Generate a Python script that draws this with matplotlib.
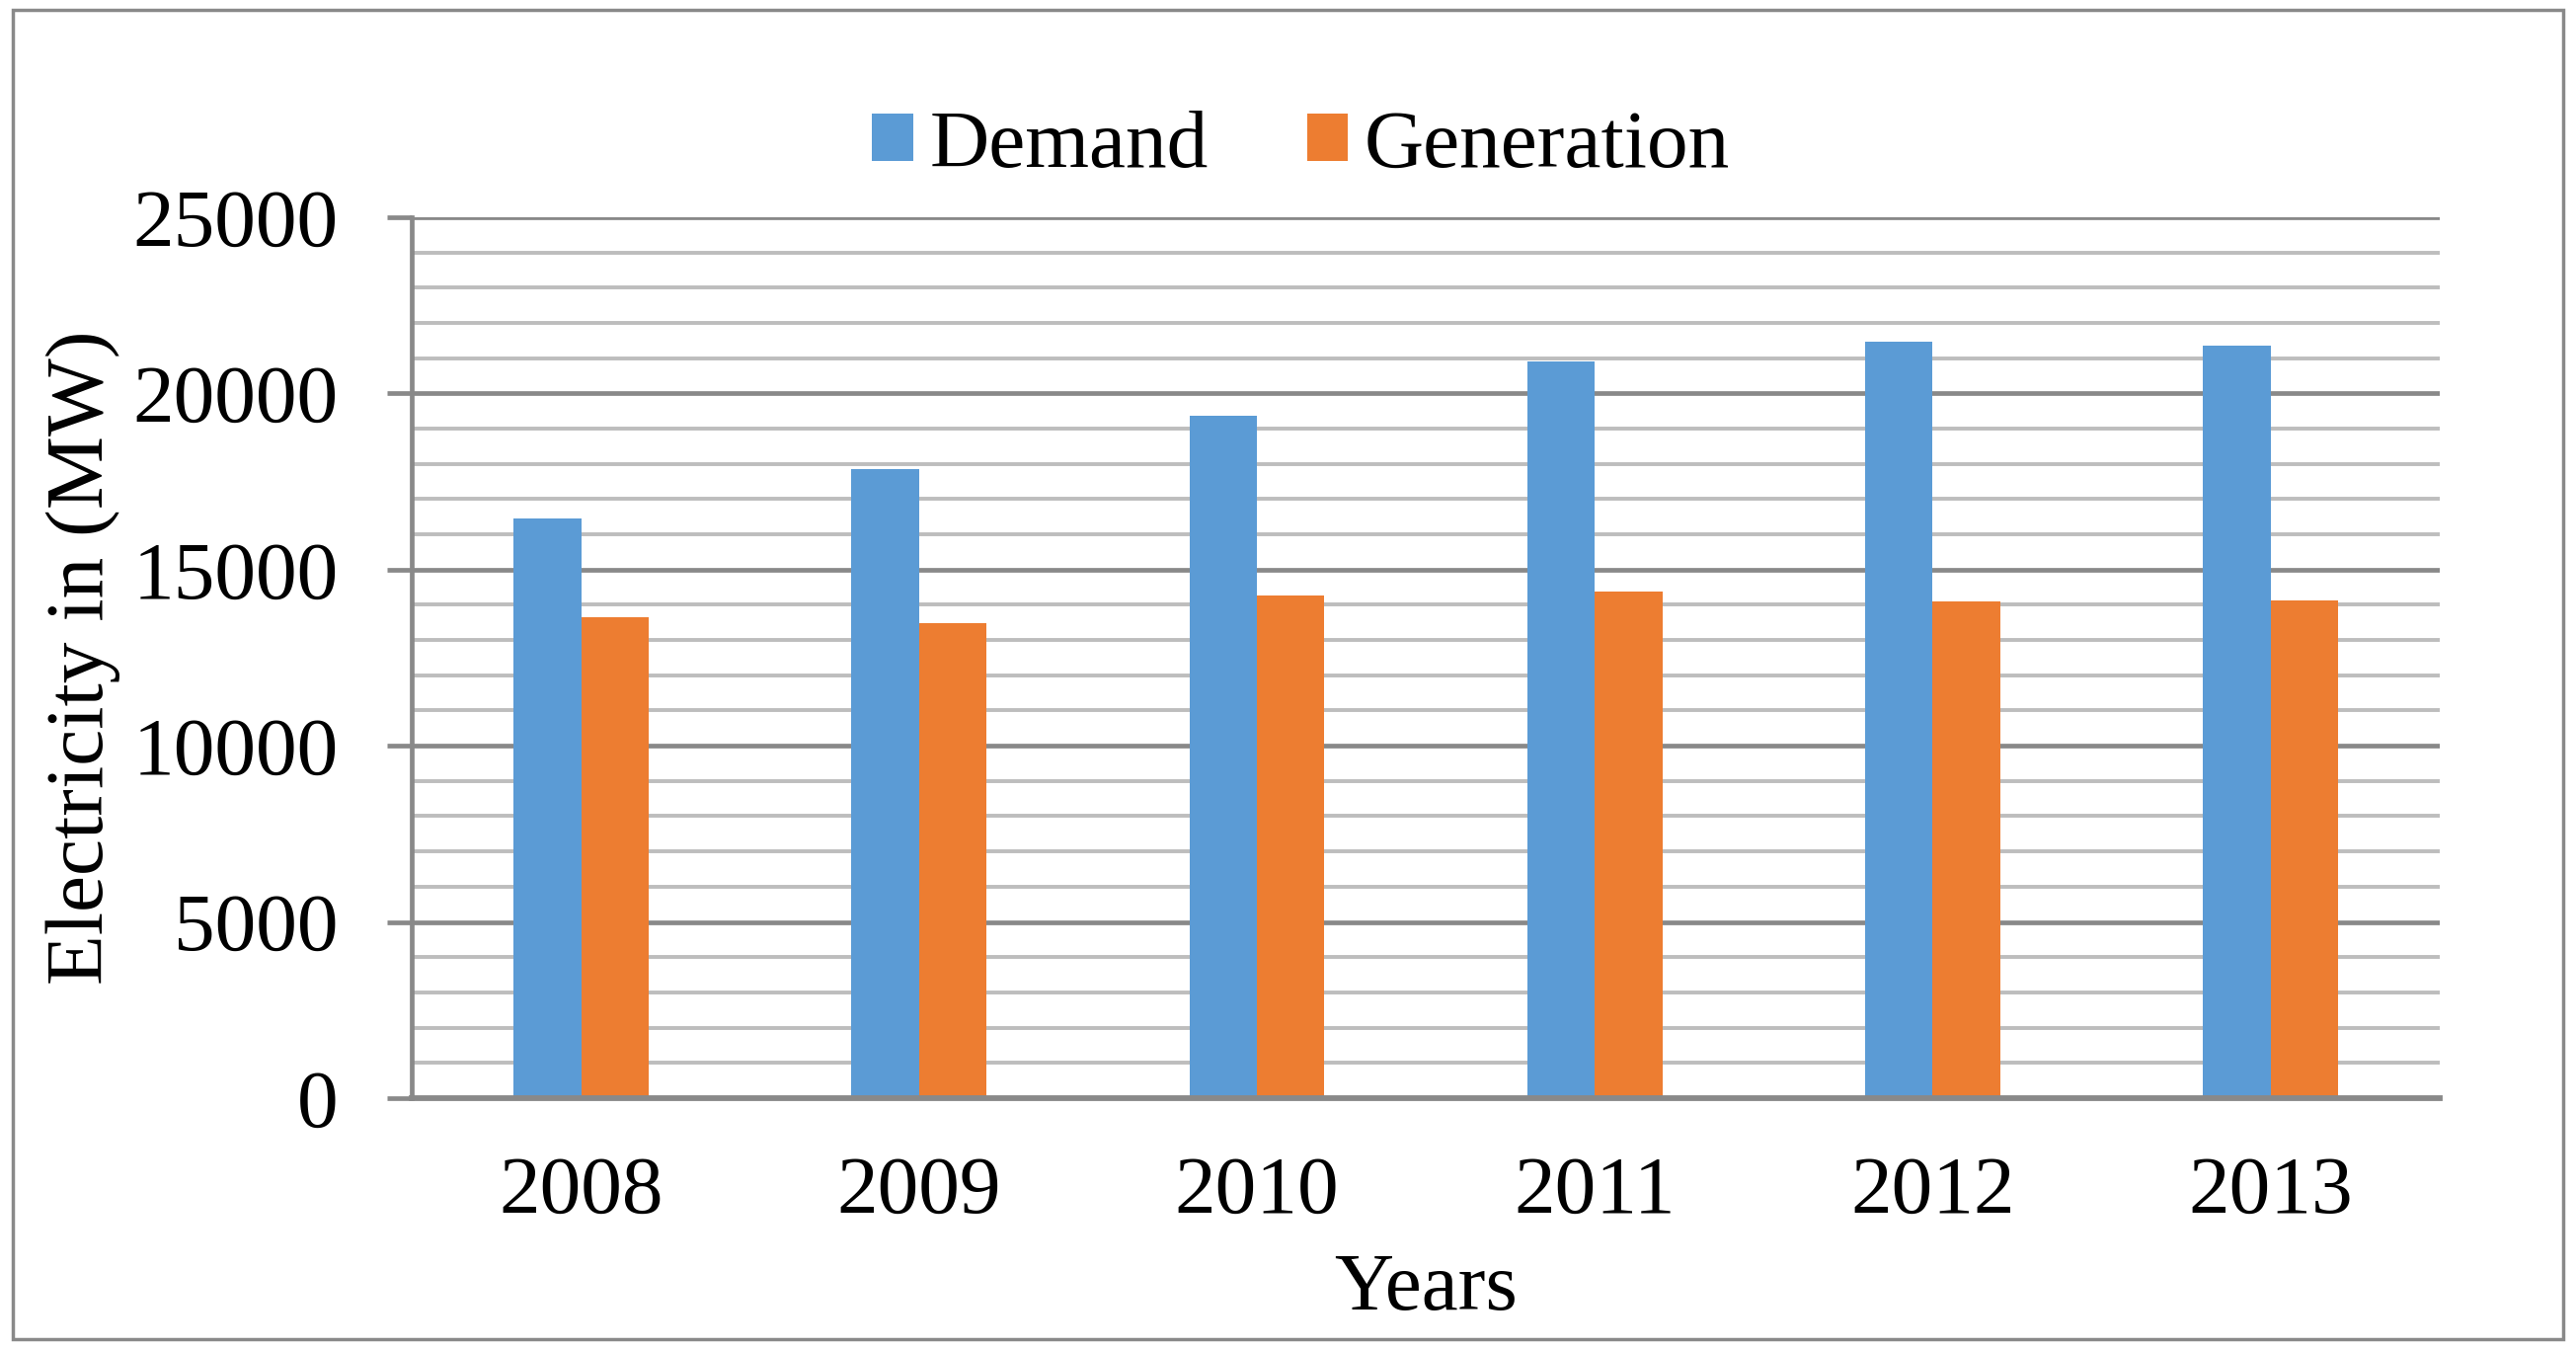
import matplotlib
matplotlib.use("Agg")
import matplotlib.pyplot as plt
import numpy as np
from matplotlib.ticker import MultipleLocator
from matplotlib.patches import Rectangle

years = ["2008", "2009", "2010", "2011", "2012", "2013"]
demand = [16460, 17860, 19360, 20900, 21460, 21360]
generation = [13660, 13480, 14270, 14370, 14090, 14130]

plt.rcParams['font.family'] = ['Liberation Serif', 'DejaVu Serif']

blue = "#5B9BD5"
orange = "#ED7D31"
major_c = "#898989"
minor_c = "#BDBDBD"

fig = plt.figure(figsize=(26.09, 13.66), dpi=100)
ax = fig.add_axes([0.160, 0.186, 0.787, 0.653])

# outer frame
fig.patches.append(Rectangle((0.005, 0.007), 0.99, 0.986, transform=fig.transFigure,
                             fill=False, edgecolor=major_c, linewidth=2.5))

x = np.arange(len(years))
w = 0.2
ax.bar(x - w / 2, demand, w, color=blue, label="Demand", zorder=3)
ax.bar(x + w / 2, generation, w, color=orange, label="Generation", zorder=3)

ax.set_xlim(-0.5, len(years) - 0.5)
ax.set_ylim(0, 25000)
ax.yaxis.set_major_locator(MultipleLocator(5000))
ax.yaxis.set_minor_locator(MultipleLocator(1000))
ax.grid(which='minor', axis='y', color=minor_c, linewidth=2.8, zorder=1)
ax.grid(which='major', axis='y', color=major_c, linewidth=3.4, zorder=2)

for s in ['top', 'right']:
    ax.spines[s].set_visible(False)
ax.spines['left'].set_color(major_c)
ax.spines['left'].set_linewidth(3.4)
ax.spines['bottom'].set_color(major_c)
ax.spines['bottom'].set_linewidth(4.2)
ax.spines['bottom'].set_zorder(4)

ax.set_xticks(x)
ax.set_xticklabels(years)
ax.tick_params(axis='x', length=0, pad=42, labelsize=60)
ax.tick_params(axis='y', which='major', length=18, width=3.4, color=major_c, pad=36, labelsize=60)
ax.tick_params(axis='y', which='minor', length=0)

ax.set_xlabel("Years", fontsize=60)
ax.xaxis.set_label_coords(0.5, -0.175)
ax.set_ylabel("Electricity in (MW)", fontsize=60)
ax.yaxis.set_label_coords(-0.144, 0.5)

fig.legend(loc='center', bbox_to_anchor=(0.505, 0.891), ncol=2, frameon=False,
           fontsize=60, handlelength=0.5, handleheight=0.5, handletextpad=0.2,
           columnspacing=1.2)

fig.savefig("out.png", dpi=100)
